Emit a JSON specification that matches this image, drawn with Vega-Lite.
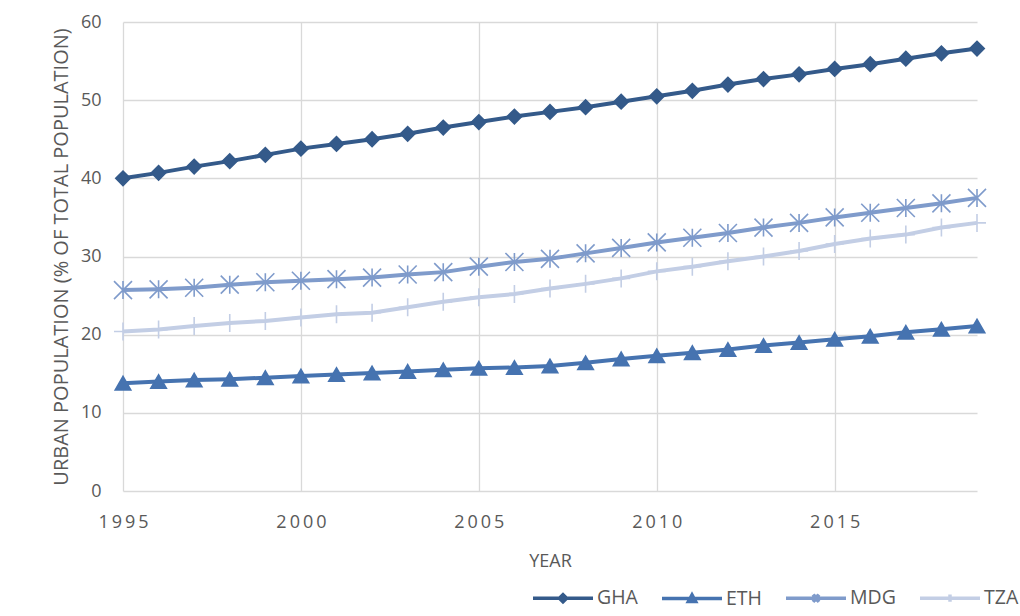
{
  "$schema": "https://vega.github.io/schema/vega-lite/v6.json",
  "width": 854,
  "height": 469,
  "autosize": {"type": "none"},
  "padding": {"left": 123, "top": 22, "right": 43, "bottom": 125},
  "background": "white",
  "config": {
    "view": {"stroke": null},
    "font": "Open Sans"
  },
  "data": {
    "values": [
      {"year": 1995, "country": "GHA", "value": 40.0},
      {"year": 1996, "country": "GHA", "value": 40.7},
      {"year": 1997, "country": "GHA", "value": 41.5},
      {"year": 1998, "country": "GHA", "value": 42.2},
      {"year": 1999, "country": "GHA", "value": 43.0},
      {"year": 2000, "country": "GHA", "value": 43.8},
      {"year": 2001, "country": "GHA", "value": 44.4},
      {"year": 2002, "country": "GHA", "value": 45.0},
      {"year": 2003, "country": "GHA", "value": 45.7},
      {"year": 2004, "country": "GHA", "value": 46.5},
      {"year": 2005, "country": "GHA", "value": 47.2},
      {"year": 2006, "country": "GHA", "value": 47.9},
      {"year": 2007, "country": "GHA", "value": 48.5},
      {"year": 2008, "country": "GHA", "value": 49.1},
      {"year": 2009, "country": "GHA", "value": 49.8},
      {"year": 2010, "country": "GHA", "value": 50.5},
      {"year": 2011, "country": "GHA", "value": 51.2},
      {"year": 2012, "country": "GHA", "value": 52.0},
      {"year": 2013, "country": "GHA", "value": 52.7},
      {"year": 2014, "country": "GHA", "value": 53.3},
      {"year": 2015, "country": "GHA", "value": 54.0},
      {"year": 2016, "country": "GHA", "value": 54.6},
      {"year": 2017, "country": "GHA", "value": 55.3},
      {"year": 2018, "country": "GHA", "value": 56.0},
      {"year": 2019, "country": "GHA", "value": 56.6},
      {"year": 1995, "country": "ETH", "value": 13.8},
      {"year": 1996, "country": "ETH", "value": 14.0},
      {"year": 1997, "country": "ETH", "value": 14.2},
      {"year": 1998, "country": "ETH", "value": 14.3},
      {"year": 1999, "country": "ETH", "value": 14.5},
      {"year": 2000, "country": "ETH", "value": 14.7},
      {"year": 2001, "country": "ETH", "value": 14.9},
      {"year": 2002, "country": "ETH", "value": 15.1},
      {"year": 2003, "country": "ETH", "value": 15.3},
      {"year": 2004, "country": "ETH", "value": 15.5},
      {"year": 2005, "country": "ETH", "value": 15.7},
      {"year": 2006, "country": "ETH", "value": 15.8},
      {"year": 2007, "country": "ETH", "value": 16.0},
      {"year": 2008, "country": "ETH", "value": 16.4},
      {"year": 2009, "country": "ETH", "value": 16.9},
      {"year": 2010, "country": "ETH", "value": 17.3},
      {"year": 2011, "country": "ETH", "value": 17.7},
      {"year": 2012, "country": "ETH", "value": 18.1},
      {"year": 2013, "country": "ETH", "value": 18.6},
      {"year": 2014, "country": "ETH", "value": 19.0},
      {"year": 2015, "country": "ETH", "value": 19.4},
      {"year": 2016, "country": "ETH", "value": 19.8},
      {"year": 2017, "country": "ETH", "value": 20.3},
      {"year": 2018, "country": "ETH", "value": 20.7},
      {"year": 2019, "country": "ETH", "value": 21.1},
      {"year": 1995, "country": "MDG", "value": 25.7},
      {"year": 1996, "country": "MDG", "value": 25.8},
      {"year": 1997, "country": "MDG", "value": 26.0},
      {"year": 1998, "country": "MDG", "value": 26.4},
      {"year": 1999, "country": "MDG", "value": 26.7},
      {"year": 2000, "country": "MDG", "value": 26.9},
      {"year": 2001, "country": "MDG", "value": 27.1},
      {"year": 2002, "country": "MDG", "value": 27.3},
      {"year": 2003, "country": "MDG", "value": 27.7},
      {"year": 2004, "country": "MDG", "value": 28.0},
      {"year": 2005, "country": "MDG", "value": 28.7},
      {"year": 2006, "country": "MDG", "value": 29.3},
      {"year": 2007, "country": "MDG", "value": 29.7},
      {"year": 2008, "country": "MDG", "value": 30.4},
      {"year": 2009, "country": "MDG", "value": 31.1},
      {"year": 2010, "country": "MDG", "value": 31.8},
      {"year": 2011, "country": "MDG", "value": 32.4},
      {"year": 2012, "country": "MDG", "value": 33.0},
      {"year": 2013, "country": "MDG", "value": 33.7},
      {"year": 2014, "country": "MDG", "value": 34.3},
      {"year": 2015, "country": "MDG", "value": 35.0},
      {"year": 2016, "country": "MDG", "value": 35.6},
      {"year": 2017, "country": "MDG", "value": 36.2},
      {"year": 2018, "country": "MDG", "value": 36.8},
      {"year": 2019, "country": "MDG", "value": 37.5},
      {"year": 1995, "country": "TZA", "value": 20.4},
      {"year": 1996, "country": "TZA", "value": 20.65},
      {"year": 1997, "country": "TZA", "value": 21.1},
      {"year": 1998, "country": "TZA", "value": 21.5},
      {"year": 1999, "country": "TZA", "value": 21.75},
      {"year": 2000, "country": "TZA", "value": 22.2},
      {"year": 2001, "country": "TZA", "value": 22.6},
      {"year": 2002, "country": "TZA", "value": 22.8},
      {"year": 2003, "country": "TZA", "value": 23.5},
      {"year": 2004, "country": "TZA", "value": 24.2},
      {"year": 2005, "country": "TZA", "value": 24.8},
      {"year": 2006, "country": "TZA", "value": 25.2},
      {"year": 2007, "country": "TZA", "value": 25.9},
      {"year": 2008, "country": "TZA", "value": 26.5},
      {"year": 2009, "country": "TZA", "value": 27.2},
      {"year": 2010, "country": "TZA", "value": 28.1},
      {"year": 2011, "country": "TZA", "value": 28.7},
      {"year": 2012, "country": "TZA", "value": 29.4},
      {"year": 2013, "country": "TZA", "value": 30.0},
      {"year": 2014, "country": "TZA", "value": 30.7},
      {"year": 2015, "country": "TZA", "value": 31.6},
      {"year": 2016, "country": "TZA", "value": 32.3},
      {"year": 2017, "country": "TZA", "value": 32.8},
      {"year": 2018, "country": "TZA", "value": 33.7},
      {"year": 2019, "country": "TZA", "value": 34.3}
    ]
  },
  "encoding": {
    "x": {
      "field": "year",
      "type": "quantitative",
      "scale": {"domain": [1995, 2019], "nice": false, "zero": false},
      "axis": {
        "values": [1995, 2000, 2005, 2010, 2015],
        "format": "d",
        "labelExpr": "join(split(datum.label, ''), '\u2009')",
        "labelFlush": false,
        "labelFontSize": 18,
        "labelColor": "#595959",
        "labelPadding": 22,
        "title": "YEAR",
        "titleFontSize": 18,
        "titleFontWeight": "normal",
        "titleColor": "#595959",
        "titlePadding": 21,
        "grid": true,
        "gridColor": "#d9d9d9",
        "gridWidth": 1.3,
        "domain": false,
        "ticks": false
      }
    },
    "y": {
      "field": "value",
      "type": "quantitative",
      "scale": {"domain": [0, 60], "nice": false},
      "axis": {
        "values": [0, 10, 20, 30, 40, 50, 60],
        "labelFontSize": 18,
        "labelColor": "#595959",
        "labelPadding": 22,
        "title": "URBAN POPULATION (% OF TOTAL POPULATION)",
        "titleFontSize": 20,
        "titleFontWeight": "normal",
        "titleColor": "#595959",
        "titlePadding": 9,
        "grid": true,
        "gridColor": "#d9d9d9",
        "gridWidth": 1.3,
        "domain": false,
        "ticks": false
      }
    }
  },
  "layer": [
    {
      "mark": {"type": "line", "strokeWidth": 4},
      "encoding": {
        "color": {
          "field": "country",
          "type": "nominal",
          "scale": {
            "domain": ["GHA", "ETH", "MDG", "TZA"],
            "range": ["#345a8a", "#4673b0", "#7f9bcb", "#c3cee5"]
          },
          "legend": {
            "orient": "none",
            "legendX": 408,
            "legendY": 544,
            "direction": "horizontal",
            "columns": 4,
            "title": null,
            "symbolSize": 3600,
            "symbolStrokeWidth": 3.5,
            "labelFontSize": 19.5,
            "labelColor": "#595959",
            "labelOffset": 2,
            "columnPadding": 17,
            "encode": {
              "symbols": {
                "update": {
                  "shape": {"signal": "datum.value === 'GHA' ? 'M-1,0H1M-0.12,0L0,-0.12L0.12,0L0,0.12Z' : datum.value === 'ETH' ? 'M-1,0H1M-0.12,0.1L0,-0.12L0.12,0.1Z' : datum.value === 'MDG' ? 'M-1,0H1M-0.1,-0.12L0.1,0.12M-0.1,0.12L0.1,-0.12M0,-0.12V0.12' : 'M-1,0H1M0,-0.12V0.12'"},
                  "fill": {"signal": "scale('color', datum.value)"},
                  "stroke": {"signal": "scale('color', datum.value)"},
                  "opacity": {"value": 1}
                }
              }
            }
          }
        }
      }
    },
    {
      "mark": {"type": "point", "opacity": 1, "strokeWidth": 1.6},
      "encoding": {
        "shape": {
          "condition": [
            {"test": "datum.country === 'GHA'", "value": "diamond"},
            {"test": "datum.country === 'ETH'", "value": "triangle-up"},
            {"test": "datum.country === 'MDG'", "value": "M-1,-1L1,1M-1,1L1,-1M0,-1V1"}
          ],
          "value": "M-1,0H1M0,-1V1"
        },
        "size": {
          "condition": [
            {"test": "datum.country === 'GHA'", "value": 210},
            {"test": "datum.country === 'ETH'", "value": 240}
          ],
          "value": 324
        },
        "fill": {
          "condition": [
            {"test": "datum.country === 'GHA'", "value": "#345a8a"},
            {"test": "datum.country === 'ETH'", "value": "#4673b0"}
          ],
          "value": null
        },
        "stroke": {
          "condition": [
            {"test": "datum.country === 'GHA'", "value": "#345a8a"},
            {"test": "datum.country === 'ETH'", "value": "#4673b0"},
            {"test": "datum.country === 'MDG'", "value": "#7f9bcb"}
          ],
          "value": "#c3cee5"
        }
      }
    }
  ]
}
